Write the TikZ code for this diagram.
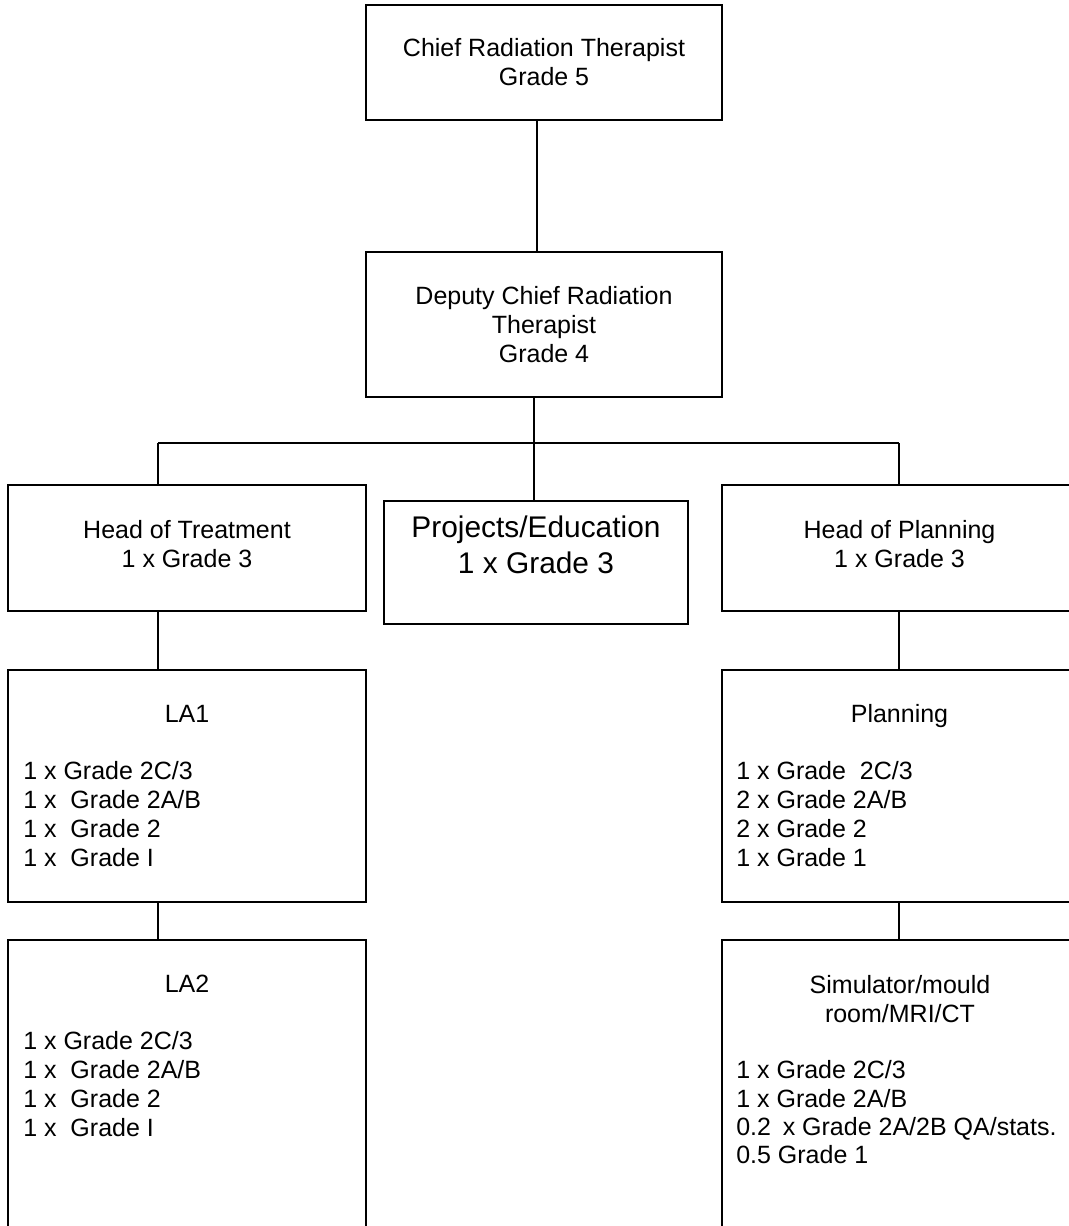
\documentclass[tikz,border=0pt]{standalone}
\usepackage{fontspec}
\setmainfont{Liberation Sans}
\newcommand\fs{\fontsize{18.75pt}{21.75pt}\selectfont}
\newcommand\fb{\fontsize{22.4pt}{27pt}\selectfont}
\begin{document}
\begin{tikzpicture}[x=0.75pt,y=-0.75pt,
  box/.style={draw, line width=1.5pt, rectangle, inner sep=0pt, align=center, font=\fs},
  conn/.style={line width=0.8pt},
  ttl/.style={font=\fs, anchor=base, inner sep=0pt},
  big/.style={font=\fb, anchor=base, inner sep=0pt},
  lst/.style={font=\fs, anchor=base west, inner sep=0pt}]
\useasboundingbox (0,0) rectangle (1069,1226);
\clip (0,0) rectangle (1069,1226);
\fill[white] (0,0) rectangle (1069,1226);

% boxes
\node[box, minimum width=267pt, minimum height=86.25pt] (chief) at (544,62.5) {Chief Radiation Therapist\\Grade 5};
\node[box, minimum width=267pt, minimum height=108.75pt] (deputy) at (544,324.5) {Deputy Chief Radiation\\Therapist\\Grade 4};
\node[box, minimum width=268.5pt, minimum height=94.5pt] (treat) at (187,548) {};
\node[box, minimum width=228pt, minimum height=92.25pt] (proj) at (536,562.5) {};
\node[box, minimum width=266.25pt, minimum height=94.5pt] (hplan) at (899.5,548) {};
\node[box, minimum width=268.5pt, minimum height=174pt] (la1) at (187,786) {};
\node[box, minimum width=266.25pt, minimum height=174pt] (plan) at (899.5,786) {};
\node[box, minimum width=268.5pt, minimum height=240pt] (la2) at (187,1100) {};
\node[box, minimum width=266.25pt, minimum height=240pt] (sim) at (899.5,1100) {};

% texts
\node[ttl] (treat1) at (187,538) {Head of Treatment};
\node[ttl] (treat2) at (187,567) {1 x Grade 3};
\node[big] (proj1) at (536,537) {Projects/Education};
\node[big] (proj2) at (536,573) {1 x Grade 3};
\node[ttl] (hplan1) at (899.5,538) {Head of Planning};
\node[ttl] (hplan2) at (899.5,567) {1 x Grade 3};

\node[ttl] (la1t) at (187,722) {LA1};
\node[lst] (la1a) at (23,779) {1 x Grade 2C/3};
\node[lst] (la1b) at (23,808) {1 x\ \ Grade 2A/B};
\node[lst] (la1c) at (23,837) {1 x\ \ Grade 2};
\node[lst] (la1d) at (23,866) {1 x\ \ Grade I};

\node[ttl] (plant) at (899.5,722) {Planning};
\node[lst] (plana) at (736,779) {1 x Grade\ \ 2C/3};
\node[lst] (planb) at (736,808) {2 x Grade 2A/B};
\node[lst] (planc) at (736,837) {2 x Grade 2};
\node[lst] (pland) at (736,866) {1 x Grade 1};

\node[ttl] (la2t) at (187,992) {LA2};
\node[lst] (la2a) at (23,1049) {1 x Grade 2C/3};
\node[lst] (la2b) at (23,1078) {1 x\ \ Grade 2A/B};
\node[lst] (la2c) at (23,1107) {1 x\ \ Grade 2};
\node[lst] (la2d) at (23,1136) {1 x\ \ Grade I};

\node[ttl] (simt1) at (900,993) {Simulator/mould};
\node[ttl] (simt2) at (900,1022) {room/MRI/CT};
\node[lst] (sima) at (736,1078) {1 x Grade 2C/3};
\node[lst] (simb) at (736,1107) {1 x Grade 2A/B};
\node[lst] (simc) at (736,1135) {0.2\hspace{0.47em}x Grade 2A/2B QA/stats.};
\node[lst] (simd) at (736,1163) {0.5 Grade 1};

% connectors
\coordinate (jl) at (158,443);
\coordinate (hub) at (534,443);
\coordinate (jr) at (899,443);
\draw[conn] (chief.south -| 537,0) -- (deputy.north -| 537,0);
\draw[conn] (deputy.south -| 534,0) -- (hub);
\draw[conn] (jl) -- (jr);
\draw[conn] (hub) -- (proj.north -| 534,0);
\draw[conn] (jl) -- (treat.north -| 158,0);
\draw[conn] (jr) -- (hplan.north -| 899,0);
\draw[conn] (treat.south -| 158,0) -- (la1.north -| 158,0);
\draw[conn] (la1.south -| 158,0) -- (la2.north -| 158,0);
\draw[conn] (hplan.south -| 899,0) -- (plan.north -| 899,0);
\draw[conn] (plan.south -| 899,0) -- (sim.north -| 899,0);
\end{tikzpicture}
\end{document}
